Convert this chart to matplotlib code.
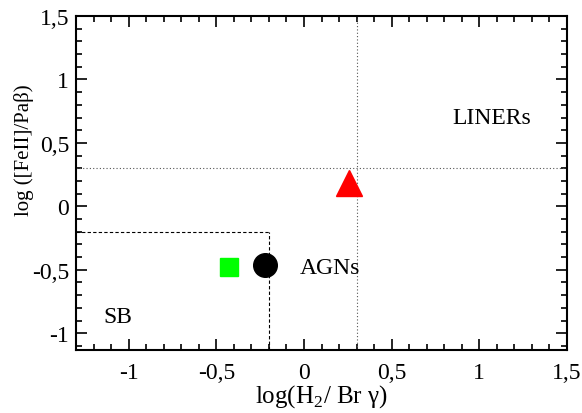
import numpy as np
import matplotlib.pyplot as plt
from matplotlib.ticker import MultipleLocator, FuncFormatter

plt.rcParams['font.family'] = ['Liberation Serif', 'DejaVu Serif']
plt.rcParams['mathtext.fontset'] = 'custom'
plt.rcParams['mathtext.rm'] = 'Liberation Serif'

# data points
sb_x, sb_y = [-0.43], [-0.48]          # green square
agn_x, agn_y = [-0.22], [-0.46]        # black circle
liner_x, liner_y = [0.255], [0.18]     # red triangle

# region boundaries
sb_limit_x, sb_limit_y = -0.2, -0.2
liner_limit_x, liner_limit_y = 0.3, 0.3

xlim = (-1.3, 1.5)
ylim = (-1.13, 1.5)

fig = plt.figure(figsize=(5.82, 4.14), dpi=100)
ax = fig.add_axes([76/582, 1 - 350.7/414, (567-76)/582, (350.7-17)/414])

ax.plot(sb_x, sb_y, 's', color='#00ff00', ms=13.5, zorder=3)
ax.plot(agn_x, agn_y, 'o', color='black', ms=17, zorder=3)
ax.plot(liner_x, liner_y, '^', color='red', ms=19, zorder=3)

# dashed SB box
ax.plot([xlim[0], sb_limit_x], [sb_limit_y, sb_limit_y], '--', color='black', lw=0.8, dashes=(3, 2))
ax.plot([sb_limit_x, sb_limit_x], [ylim[0], sb_limit_y], '--', color='black', lw=0.8, dashes=(3, 2))
# dotted LINER lines
ax.axhline(liner_limit_y, color='#555555', lw=0.8, ls=(0, (1, 2)))
ax.axvline(liner_limit_x, color='#555555', lw=0.8, ls=(0, (1, 2)))

ax.text(1.07, 0.70, 'LINERs', fontsize=17, ha='center', va='center')
ax.text(0.15, -0.48, 'AGNs', fontsize=17, ha='center', va='center')
ax.text(-1.06, -0.87, 'SB', fontsize=17, ha='center', va='center')

ax.set_xlim(*xlim)
ax.set_ylim(*ylim)

fmt = FuncFormatter(lambda v, p: ('%g' % round(v, 2)).replace('.', ','))
ax.xaxis.set_major_locator(MultipleLocator(0.5))
ax.xaxis.set_minor_locator(MultipleLocator(0.1))
ax.yaxis.set_major_locator(MultipleLocator(0.5))
ax.yaxis.set_minor_locator(MultipleLocator(0.1))
ax.xaxis.set_major_formatter(fmt)
ax.yaxis.set_major_formatter(fmt)
ax.tick_params(which='both', direction='in', top=True, right=True, labelsize=17, width=1.2)
ax.tick_params(which='major', length=8)
ax.tick_params(which='minor', length=4)
ax.tick_params(axis='x', pad=9)
ax.tick_params(axis='y', pad=5)
for s in ax.spines.values():
    s.set_linewidth(1.5)

ax.set_xlabel('log(H$_2$/ Br γ)', fontsize=18, labelpad=-1)
ax.set_ylabel('log ([FeII]/Paβ)', fontsize=15)
ax.yaxis.set_label_coords(-0.085, 0.6)

fig.savefig('out.png', dpi=100)
